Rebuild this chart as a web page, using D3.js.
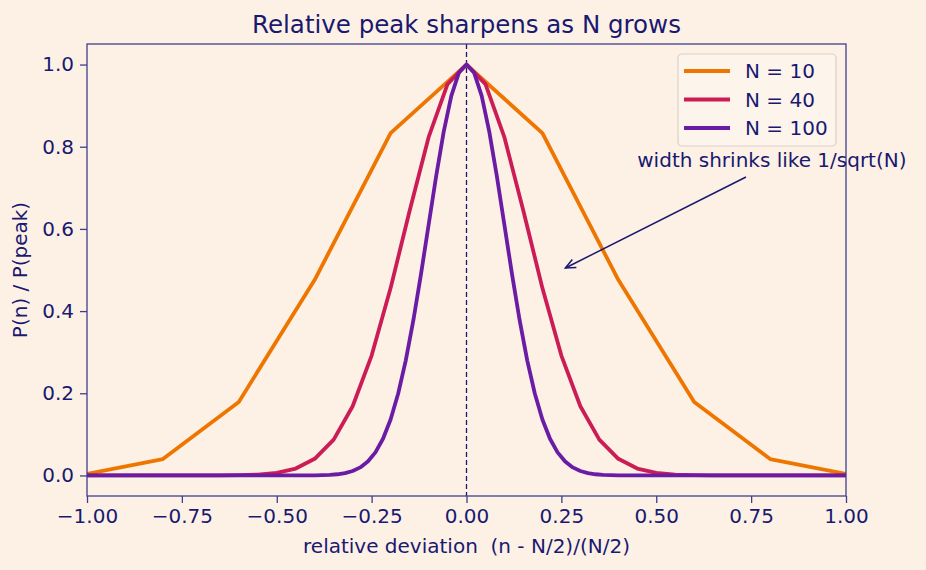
<!DOCTYPE html>
<html>
<head>
<meta charset="utf-8">
<script src="https://cdn.jsdelivr.net/npm/d3@7"></script>
<style>
  html, body { margin: 0; padding: 0; background: #fdf1e6; }
  svg { display: block; font-family: "DejaVu Sans", sans-serif; }
</style>
</head>
<body>
<script>
// Data: P(n)/P(peak) against relative deviation
var x10 = [-1, -0.8, -0.6, -0.4, -0.2, 0, 0.2, 0.4, 0.6, 0.8, 1];
var y10 = [0.004, 0.040, 0.179, 0.476, 0.833, 1, 0.833, 0.476, 0.179, 0.040, 0.004];

var x40 = [-1, -0.95, -0.9, -0.85, -0.8, -0.75, -0.7, -0.65, -0.6, -0.55, -0.5,
    -0.45, -0.4, -0.35, -0.3, -0.25, -0.2, -0.15, -0.1, -0.05, 0,
    0.05, 0.1, 0.15, 0.2, 0.25, 0.3, 0.35, 0.4, 0.45, 0.5,
    0.55, 0.6, 0.65, 0.7, 0.75, 0.8, 0.85, 0.9, 0.95, 1];
var y40 = [0, 0, 0, 0, 0.000001, 0.000005, 0.00003, 0.00014, 0.00056, 0.00198,
    0.00615, 0.01677, 0.04053, 0.08729, 0.16835, 0.29181, 0.45595, 0.64370, 0.82251, 0.95238, 1,
    0.95238, 0.82251, 0.64370, 0.45595, 0.29181, 0.16835, 0.08729, 0.04053, 0.01677, 0.00615,
    0.00198, 0.00056, 0.00014, 0.00003, 0.000005, 0.000001, 0, 0, 0, 0];

var x100 = [-1, -0.98, -0.96, -0.94, -0.92, -0.9, -0.88, -0.86, -0.84, -0.82,
    -0.8, -0.78, -0.76, -0.74, -0.72, -0.7, -0.68, -0.66, -0.64, -0.62,
    -0.6, -0.58, -0.56, -0.54, -0.52, -0.5, -0.48, -0.46, -0.44, -0.42,
    -0.4, -0.38, -0.36, -0.34, -0.32, -0.3, -0.28, -0.26, -0.24, -0.22,
    -0.2, -0.18, -0.16, -0.14, -0.12, -0.1, -0.08, -0.06, -0.04, -0.02, 0,
    0.02, 0.04, 0.06, 0.08, 0.1, 0.12, 0.14, 0.16, 0.18, 0.2,
    0.22, 0.24, 0.26, 0.28, 0.3, 0.32, 0.34, 0.36, 0.38, 0.4,
    0.42, 0.44, 0.46, 0.48, 0.5, 0.52, 0.54, 0.56, 0.58, 0.6,
    0.62, 0.64, 0.66, 0.68, 0.7, 0.72, 0.74, 0.76, 0.78, 0.8,
    0.82, 0.84, 0.86, 0.88, 0.9, 0.92, 0.94, 0.96, 0.98, 1];
var y100 = [0, 0, 0, 0, 0, 0, 0, 0, 0, 0,
    0, 0, 0, 0, 0, 0, 0, 0, 0, 0,
    0, 0, 0, 0, 0, 0, 0, 0.00002, 0.00005, 0.00012,
    0.00029, 0.00066, 0.00142, 0.00292, 0.00576, 0.01085, 0.01960, 0.03390, 0.05620, 0.08934,
    0.13625, 0.19939, 0.28009, 0.37780, 0.48942, 0.60906, 0.72822, 0.83668, 0.92383, 0.98039, 1,
    0.98039, 0.92383, 0.83668, 0.72822, 0.60906, 0.48942, 0.37780, 0.28009, 0.19939, 0.13625,
    0.08934, 0.05620, 0.03390, 0.01960, 0.01085, 0.00576, 0.00292, 0.00142, 0.00066, 0.00029,
    0.00012, 0.00005, 0.00002, 0, 0, 0, 0, 0, 0, 0,
    0, 0, 0, 0, 0, 0, 0, 0, 0, 0,
    0, 0, 0, 0, 0, 0, 0, 0, 0, 0];

var seriesNames = ["N = 10", "N = 40", "N = 100"];
var xTicks = [-1, -0.75, -0.5, -0.25, 0, 0.25, 0.5, 0.75, 1];
var yTicks = [0, 0.2, 0.4, 0.6, 0.8, 1.0];

var series = [
    { name: seriesNames[0], xs: x10, ys: y10, color: "#ee7600" },
    { name: seriesNames[1], xs: x40, ys: y40, color: "#cc1c55" },
    { name: seriesNames[2], xs: x100, ys: y100, color: "#6a1ca5" }
];

// Sizes of the figure and the plot area inside it
var margin = { top: 44, right: 80, bottom: 74, left: 87 },
    width = 926 - margin.left - margin.right,
    height = 570 - margin.top - margin.bottom;

var ink = "#191970",
    spine = "#3e3e8c",
    fontSize = "20px";

var svg = d3.select("body").append("svg")
    .attr("width", 926)
    .attr("height", 570);

svg.append("rect")
    .attr("width", 926).attr("height", 570)
    .attr("fill", "#fdf1e6");

var g = svg.append("g")
    .attr("transform", "translate(" + margin.left + "," + margin.top + ")");

var xScale = d3.scaleLinear().domain([-1, 1]).range([0, width]);
var yScale = d3.scaleLinear().domain([-0.05, 1.05]).range([height, 0]);

// dashed line marking zero deviation
g.append("line")
    .attr("x1", xScale(0)).attr("x2", xScale(0))
    .attr("y1", 0).attr("y2", height)
    .attr("stroke", ink)
    .attr("stroke-width", 1.3)
    .attr("stroke-dasharray", "5,3");

// one line per N
var line = d3.line()
    .x(d => xScale(d[0]))
    .y(d => yScale(d[1]));

svg.append("clipPath").attr("id", "plotclip")
    .append("rect").attr("width", width).attr("height", height);

g.append("g")
    .attr("clip-path", "url(#plotclip)")
    .selectAll("path")
    .data(series)
    .enter()
    .append("path")
    .attr("d", s => line(s.xs.map((x, i) => [x, s.ys[i]])))
    .attr("fill", "none")
    .attr("stroke", s => s.color)
    .attr("stroke-width", 3.8)
    .attr("stroke-linejoin", "round");

// axes
var xAxis = d3.axisBottom(xScale)
    .tickValues(xTicks)
    .tickFormat(d3.format(".2f"))
    .tickSize(7)
    .tickPadding(6);
var gx = g.append("g")
    .attr("transform", "translate(0," + height + ")")
    .call(xAxis);

var yAxis = d3.axisLeft(yScale)
    .tickValues(yTicks)
    .tickFormat(d3.format(".1f"))
    .tickSize(7)
    .tickPadding(6);
var gy = g.append("g").call(yAxis);

[gx, gy].forEach(function (ax) {
    ax.select(".domain").remove();
    ax.selectAll(".tick line").attr("stroke", spine).attr("stroke-width", 1.3);
    ax.selectAll(".tick text")
        .attr("fill", ink)
        .attr("font-size", fontSize)
        .attr("font-family", "DejaVu Sans");
});

// frame around the plot
g.append("rect")
    .attr("width", width).attr("height", height)
    .attr("fill", "none")
    .attr("stroke", spine)
    .attr("stroke-width", 1.3);

// title and axis labels
svg.append("text")
    .attr("x", margin.left + width / 2)
    .attr("y", 33)
    .attr("text-anchor", "middle")
    .attr("font-size", "24.5px")
    .attr("fill", ink)
    .text("Relative peak sharpens as N grows");

svg.append("text")
    .attr("x", margin.left + width / 2)
    .attr("y", 553)
    .attr("text-anchor", "middle")
    .attr("font-size", fontSize)
    .attr("fill", ink)
    .style("white-space", "pre")
    .text("relative deviation  (n - N/2)/(N/2)");

svg.append("text")
    .attr("transform", "translate(27," + (margin.top + height / 2) + ") rotate(-90)")
    .attr("text-anchor", "middle")
    .attr("font-size", fontSize)
    .attr("fill", ink)
    .text("P(n) / P(peak)");

// annotation with an open arrow head
var tip = [xScale(0.25) + 4, yScale(0.5) - 2];
var tail = [659, 133];
g.append("line")
    .attr("x1", tail[0]).attr("y1", tail[1])
    .attr("x2", tip[0]).attr("y2", tip[1])
    .attr("stroke", ink).attr("stroke-width", 1.5);
var ang = Math.atan2(tip[1] - tail[1], tip[0] - tail[0]);
var headLen = 11, spread = 0.42;
g.append("path")
    .attr("d", "M" + (tip[0] - headLen * Math.cos(ang - spread)) + "," + (tip[1] - headLen * Math.sin(ang - spread)) +
        "L" + tip[0] + "," + tip[1] +
        "L" + (tip[0] - headLen * Math.cos(ang + spread)) + "," + (tip[1] - headLen * Math.sin(ang + spread)))
    .attr("fill", "none")
    .attr("stroke", ink).attr("stroke-width", 1.5);

g.append("text")
    .attr("x", xScale(0.45))
    .attr("y", yScale(0.75))
    .attr("font-size", fontSize)
    .attr("fill", ink)
    .text("width shrinks like 1/sqrt(N)");

// legend
var legend = svg.append("g").attr("transform", "translate(678,54)");
legend.append("rect")
    .attr("width", 158).attr("height", 92)
    .attr("rx", 4)
    .attr("fill", "#fdf4ec")
    .attr("stroke", "#d9d1c9")
    .attr("stroke-width", 1.2);

var rows = legend.selectAll("g.row")
    .data(series)
    .enter()
    .append("g")
    .attr("class", "row")
    .attr("transform", (d, i) => "translate(0," + (17 + i * 28.5) + ")");
rows.append("line")
    .attr("x1", 6).attr("x2", 52)
    .attr("stroke", d => d.color)
    .attr("stroke-width", 3.8);
rows.append("text")
    .attr("x", 67)
    .attr("dy", "0.35em")
    .attr("font-size", fontSize)
    .attr("fill", ink)
    .text(d => d.name);
</script>
</body>
</html>
